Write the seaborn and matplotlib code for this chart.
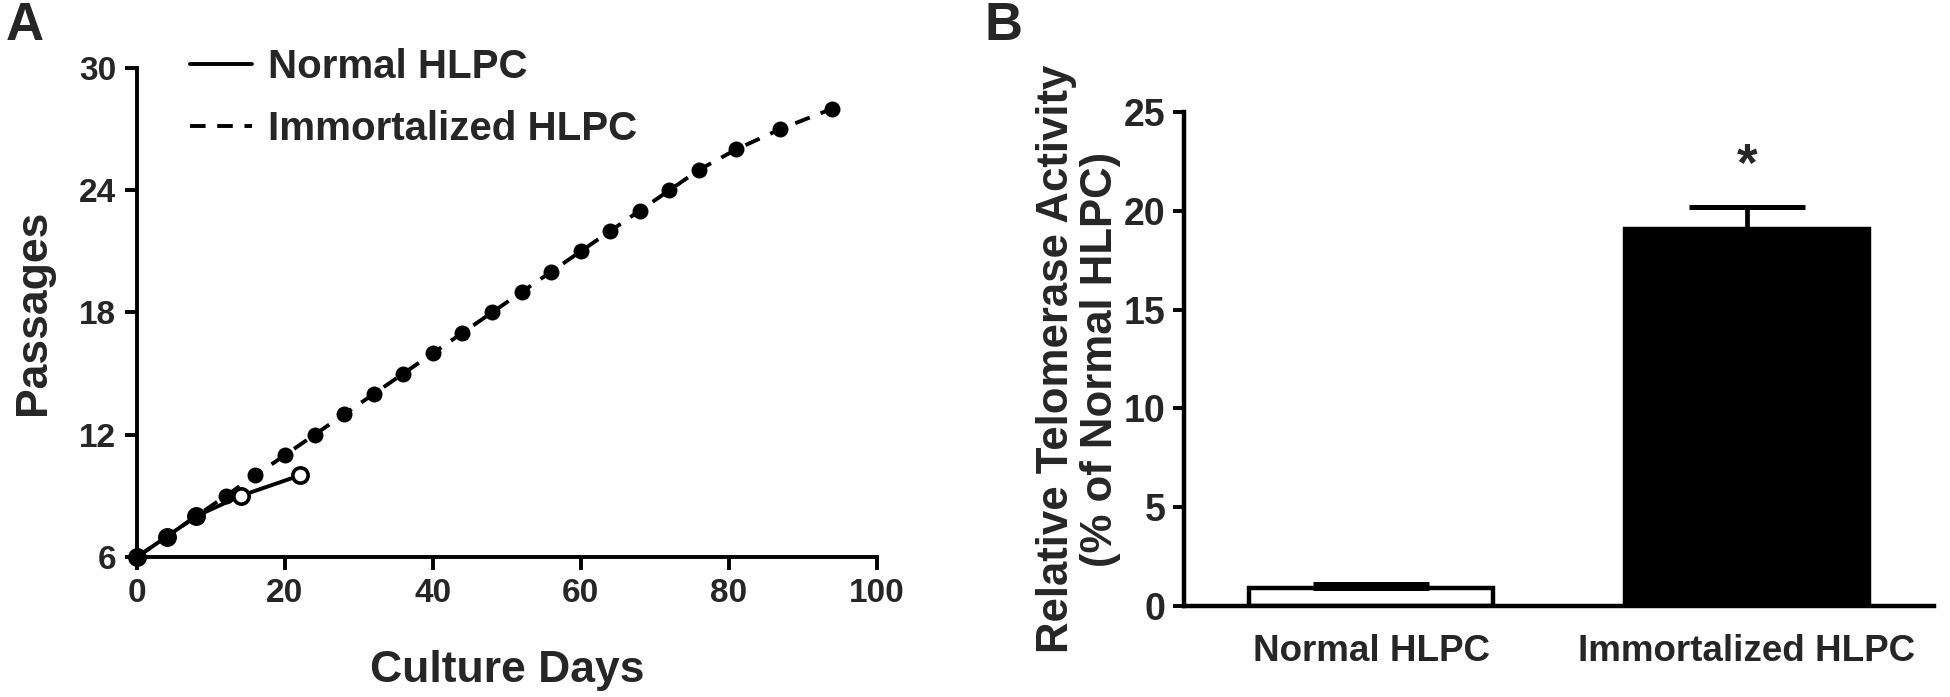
import matplotlib
matplotlib.use("Agg")
import matplotlib.pyplot as plt
import seaborn as sns
import pandas as pd
import numpy as np
from matplotlib.lines import Line2D

# ---- data ----
normal_days = [0, 4, 8, 14, 22]
normal_passages = [6, 7, 8, 9, 10]
immort_days = [0, 4, 8, 12, 16, 20, 24, 28, 32, 36, 40, 44, 48, 52, 56, 60, 64, 68, 72, 76, 81, 87, 94]
immort_passages = [6, 7, 8, 9, 10, 11, 12, 13, 14, 15, 16, 17, 18, 19, 20, 21, 22, 23, 24, 25, 26, 27, 28]

groups = ["Normal HLPC", "Immortalized HLPC"]
telomerase = [0.9, 19.1]
telomerase_err = [0.2, 1.1]

sns.set_theme(style="ticks")
plt.rcParams['font.family'] = ['Liberation Sans', 'DejaVu Sans']
plt.rcParams['font.weight'] = 'bold'

fig = plt.figure(figsize=(19.5, 6.97), dpi=100)
axA = fig.add_axes([0.0703, 0.2009, 0.3792, 0.7016])
axB = fig.add_axes([0.6070, 0.1306, 0.3850, 0.7088])

LW = 2.8
DASH = (0, (4.0, 3.0))

# ---- panel A ----
dfN = pd.DataFrame({"day": normal_days, "passage": normal_passages})
dfI = pd.DataFrame({"day": immort_days, "passage": immort_passages})
sns.lineplot(data=dfN, x="day", y="passage", ax=axA, color="black", lw=LW,
             marker="o", markersize=11, markerfacecolor="white", markeredgecolor="black",
             markeredgewidth=2.6, sort=False, clip_on=False, zorder=3)
sns.lineplot(data=dfI, x="day", y="passage", ax=axA, color="black", lw=LW,
             linestyle=DASH, marker="o", markersize=11.5, markerfacecolor="black",
             markeredgecolor="black", markeredgewidth=0, sort=False, clip_on=False, zorder=4)

axA.set_xlim(0, 100)
axA.set_ylim(6, 30)
axA.set_xticks(range(0, 101, 20))
axA.set_yticks(range(6, 31, 6))
axA.set_xlabel("Culture Days", fontsize=32, fontweight="bold", labelpad=30)
axA.set_ylabel("Passages", fontsize=32, fontweight="bold", labelpad=18)
for s in ["top", "right"]:
    axA.spines[s].set_visible(False)
for s in ["left", "bottom"]:
    axA.spines[s].set_linewidth(LW)
    axA.spines[s].set_color("black")
axA.tick_params(axis="both", length=9, width=LW, color="black", labelsize=24, pad=6)
for t in axA.get_xticklabels() + axA.get_yticklabels():
    t.set_fontweight("bold")

handles = [Line2D([], [], color="black", lw=LW),
           Line2D([], [], color="black", lw=LW, linestyle=DASH)]
leg = axA.legend(handles, groups, loc="upper left", bbox_to_anchor=(0.022, 1.115), frameon=False,
                 prop={"size": 29, "weight": "bold"}, handlelength=1.55, handletextpad=0.4,
                 labelspacing=0.6)

# ---- panel B ----
dfB = pd.DataFrame({"group": groups, "value": telomerase})
sns.barplot(data=dfB, x="group", y="value", ax=axB, order=groups, width=0.65,
            palette=["white", "black"], hue="group", legend=False,
            edgecolor="black", linewidth=3.2, errorbar=None)
xpos = np.arange(len(groups))
axB.errorbar(xpos, telomerase, yerr=[np.zeros(len(groups)), telomerase_err], fmt="none",
             ecolor="black", elinewidth=3.4, capsize=42, capthick=3.6, zorder=1)
axB.text(1, 22.2, "*", ha="center", va="center", fontsize=38, fontweight="bold")

axB.set_xlim(-0.5, 1.5)
axB.set_ylim(0, 25)
axB.set_yticks(range(0, 26, 5))
axB.set_xlabel("")
axB.set_ylabel("Relative Telomerase Activity\n(% of Normal HLPC)", fontsize=31.5,
               fontweight="bold", labelpad=2, linespacing=1.1)
for s in ["top", "right"]:
    axB.spines[s].set_visible(False)
for s in ["left", "bottom"]:
    axB.spines[s].set_linewidth(LW + 0.4)
    axB.spines[s].set_color("black")
axB.tick_params(axis="y", length=8, width=LW, color="black", pad=5)
axB.tick_params(axis="x", length=0, pad=20)
for t in axB.get_yticklabels():
    t.set_fontweight("bold"); t.set_fontsize(27)
for t in axB.get_xticklabels():
    t.set_fontweight("bold"); t.set_fontsize(26.5)

fig.text(0.003, 0.998, "A", fontsize=38, fontweight="bold", ha="left", va="top")
fig.text(0.505, 0.998, "B", fontsize=38, fontweight="bold", ha="left", va="top")

fig.savefig("out.png", dpi=100)
